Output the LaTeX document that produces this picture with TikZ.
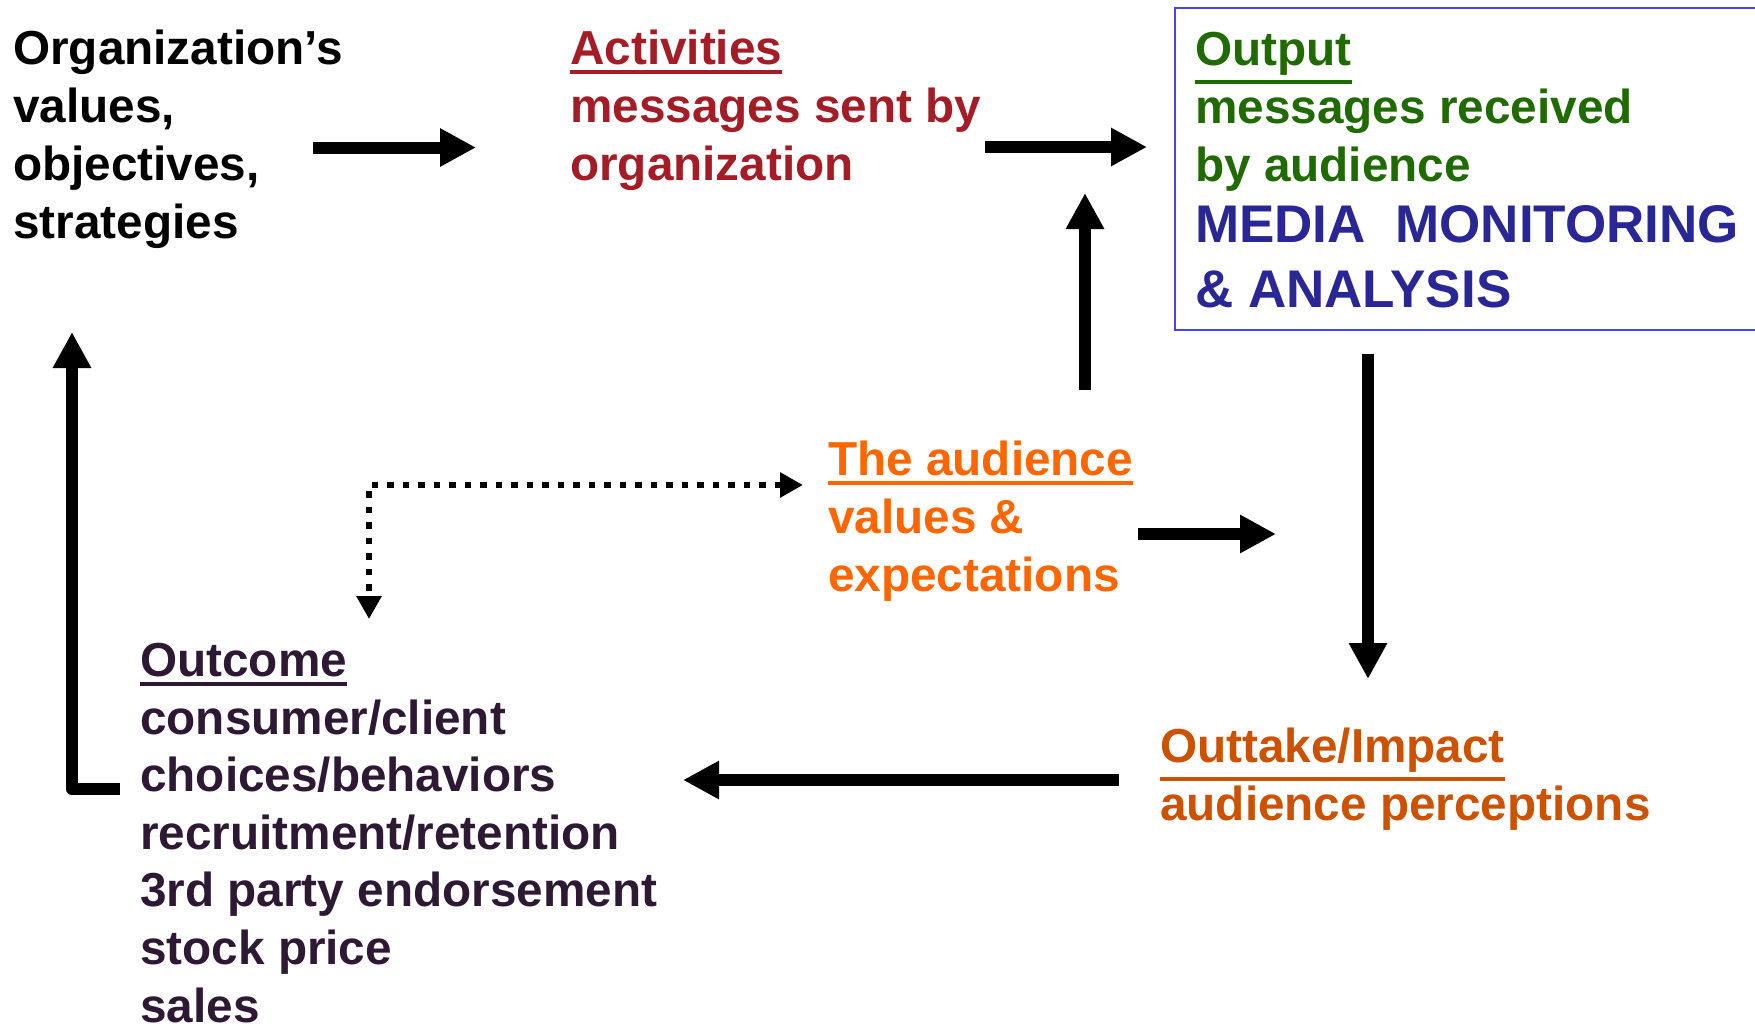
\documentclass[tikz,border=0pt]{standalone}
\usepackage{fontspec}
\setmainfont{Liberation Sans}
\usetikzlibrary{arrows.meta}
\definecolor{actred}{RGB}{163,28,38}
\definecolor{outgreen}{RGB}{31,107,0}
\definecolor{medblue}{RGB}{41,38,150}
\definecolor{boxblue}{RGB}{70,70,240}
\definecolor{audorange}{RGB}{255,102,0}
\definecolor{outtakec}{RGB}{204,82,0}
\definecolor{outcomec}{RGB}{46,25,52}
\newcommand{\ulx}[1]{\vtop{\hbox{#1}\kern0.11em\hrule height0.09em}}
\begin{document}
\begin{tikzpicture}[x=1pt,y=-1pt,
  txt/.style={font=\fontsize{47.7}{58}\selectfont\bfseries, align=left, inner sep=0pt, anchor=base west},
  bigtxt/.style={font=\fontsize{53}{65}\selectfont\bfseries, align=left, inner sep=0pt, anchor=base west},
  bigarrow/.style={line width=12pt, -{Triangle[length=36pt,width=36pt]}},
  dotarrow/.style={line width=6.5pt, dash pattern=on 6.5pt off 9pt, {Triangle[length=23pt,width=24pt]}-{Triangle[length=23pt,width=24pt]}}
]
\useasboundingbox (0,0) rectangle (1755,1026);
\fill[white] (0,0) rectangle (1755,1026);

% texts (anchor = baseline of the last line)
\node[txt, text=black] (org) at (13,238) {Organization’s\\values,\\objectives,\\strategies};
\node[txt, text=actred] (act) at (570,180) {\ulx{Activities}\\messages sent by\\organization};
\draw[boxblue, line width=2pt] (1175,8) rectangle (1800,330);
\node[txt, text=outgreen] (out) at (1195,181) {\ulx{Output}\\messages received\\by audience};
\node[bigtxt, text=medblue] (media) at (1195,307) {MEDIA\ \ MONITORING\\\&\ ANALYSIS};
\node[txt, text=audorange] (aud) at (828,591) {\ulx{The audience}\\values \&\\expectations};
\node[txt, text=outtakec] (outt) at (1160,820) {\ulx{Outtake/Impact}\\audience perceptions};
\node[txt, text=outcomec, font=\fontsize{47.7}{57.6}\selectfont\bfseries] (outc) at (140,1022) {\ulx{Outcome}\\consumer/client\\choices/behaviors\\recruitment/retention\\3rd party endorsement\\stock price\\sales};

% connector end points
\coordinate (a1s) at (313,147.5);
\coordinate (a1e) at (476,147.5);
\coordinate (a2s) at (985,147);
\coordinate (a2e) at (1147,147);
\coordinate (a3s) at (1085,390);
\coordinate (a3e) at (1085,193);
\coordinate (a4s) at (1368,354);
\coordinate (a4e) at (1368,679);
\coordinate (a5s) at (1138,534);
\coordinate (a5e) at (1276,534);
\coordinate (a6s) at (1119,780);
\coordinate (a6e) at (683,780);
\coordinate (a7s) at (120,789);
\coordinate (a7c) at (72,789);
\coordinate (a7e) at (72,332);
\coordinate (dr) at (803,485);
\coordinate (dc) at (369,485);
\coordinate (dd) at (369,619);

% connectors
\draw[bigarrow] (a1s) -- (a1e);
\draw[bigarrow] (a2s) -- (a2e);
\draw[bigarrow] (a3s) -- (a3e);
\draw[bigarrow] (a4s) -- (a4e);
\draw[bigarrow] (a5s) -- (a5e);
\draw[bigarrow] (a6s) -- (a6e);
\draw[bigarrow, line join=round] (a7s) -- (a7c) -- (a7e);
\draw[dotarrow] (dr) -- (dc) -- (dd);
\end{tikzpicture}
\end{document}
